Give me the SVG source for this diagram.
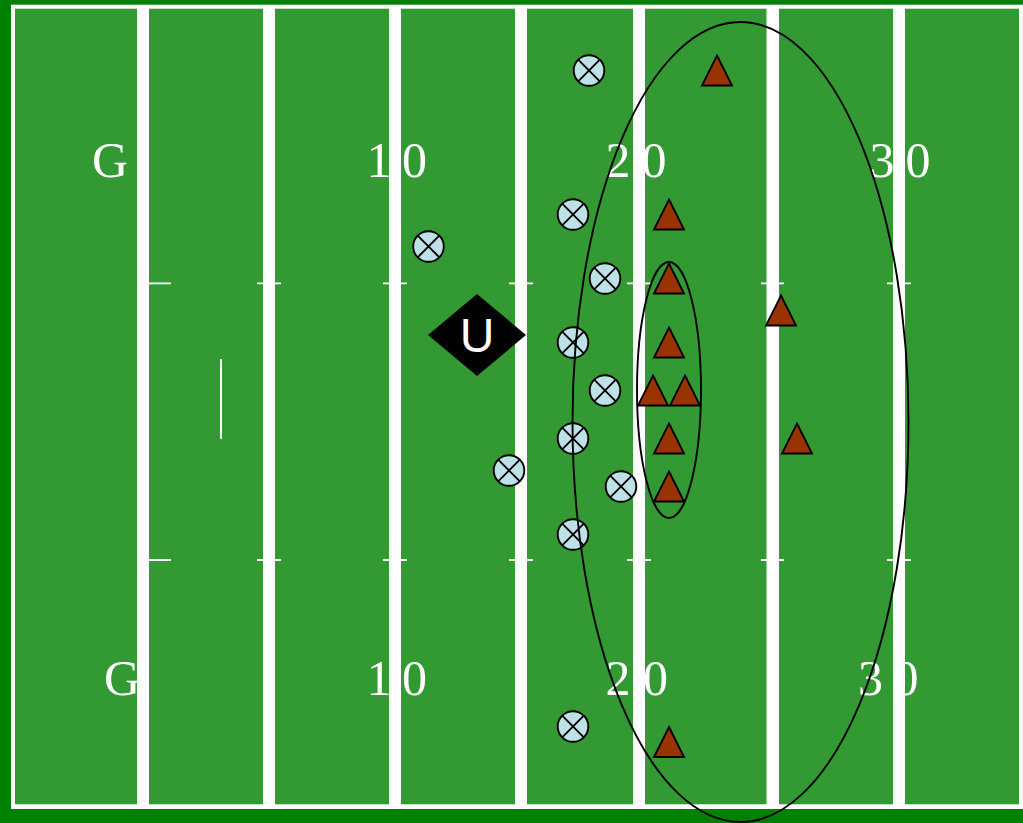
<svg xmlns="http://www.w3.org/2000/svg" xmlns:xlink="http://www.w3.org/1999/xlink" width="1023" height="823" viewBox="0 0 1023 823">
<style>
.num{font-family:"Liberation Serif","Times New Roman",serif;font-size:50px;fill:#ffffff;text-anchor:middle}
.yl{fill:#ffffff}
.hash{stroke:#ffffff;stroke-width:1.8;fill:none}
.off circle{fill:#bde1e6;stroke:#000000;stroke-width:1.9}
.off path{stroke:#000000;stroke-width:1.9;fill:none}
.def{fill:#993300;stroke:#000000;stroke-width:1.9;stroke-linejoin:miter}
.zone{fill:none;stroke:#000000;stroke-width:1.9}
</style>
<defs>
<g id="xcirc" class="off"><circle cx="0" cy="0" r="15.3"/><path d="M-10.8,-10.8 L10.8,10.8 M-10.8,10.8 L10.8,-10.8"/></g>
<polygon id="tri" class="def" points="0,-15 15,15 -15,15"/>
</defs>
<g id="field">
<rect x="0" y="0" width="1023" height="823" fill="#008000"/>
<rect x="11" y="4.7" width="1014" height="804.3" fill="#ffffff"/>
<rect x="15" y="8.7" width="1004" height="795.6" fill="#339933"/>
</g>
<g id="numbers">
<text class="num" x="110" y="177">G</text>
<text class="num" x="379 414.5" y="177">10</text>
<text class="num" x="618 654" y="177">20</text>
<text class="num" x="882 918" y="177">30</text>
<text class="num" x="122" y="695">G</text>
<text class="num" x="379 414.5" y="695">10</text>
<text class="num" x="618 655.5" y="695">20</text>
<text class="num" x="870.5 906" y="695">30</text>
</g>
<g id="yardlines">
<rect class="yl" x="137" y="6" width="12" height="801"/>
<rect class="yl" x="263" y="6" width="12" height="801"/>
<rect class="yl" x="389" y="6" width="12" height="801"/>
<rect class="yl" x="515" y="6" width="12" height="801"/>
<rect class="yl" x="633" y="6" width="12" height="801"/>
<rect class="yl" x="766.5" y="6" width="12.5" height="801"/>
<rect class="yl" x="893" y="6" width="12" height="801"/>
</g>
<g id="hashes">
<path class="hash" d="M149,283.3H171 M257,283.3H281 M383,283.3H407 M509,283.3H533 M627,283.3H651 M761,283.3H784 M887,283.3H911"/>
<path class="hash" d="M149,560H171 M257,560H281 M383,560H407 M509,560H533 M627,560H651 M761,560H784 M887,560H911"/>
<line x1="221" y1="359" x2="221" y2="439" stroke="#ffffff" stroke-width="2"/>
</g>
<g id="qb">
<polygon points="477,294 526,335 477,376 428,335" fill="#000000"/>
<text x="477" y="352" text-anchor="middle" font-family="Liberation Sans, Arial, sans-serif" font-size="48" fill="#ffffff">U</text>
</g>
<g id="offense">
<use id="o1" xlink:href="#xcirc" x="589" y="70.5"/>
<use id="o2" xlink:href="#xcirc" x="573" y="214.5"/>
<use id="o3" xlink:href="#xcirc" x="428.5" y="246.5"/>
<use id="o4" xlink:href="#xcirc" x="605" y="278.5"/>
<use id="o5" xlink:href="#xcirc" x="573" y="342.5"/>
<use id="o6" xlink:href="#xcirc" x="605" y="390.5"/>
<use id="o7" xlink:href="#xcirc" x="573" y="438.5"/>
<use id="o8" xlink:href="#xcirc" x="509" y="470.5"/>
<use id="o9" xlink:href="#xcirc" x="621" y="486.5"/>
<use id="o10" xlink:href="#xcirc" x="573" y="534.5"/>
<use id="o11" xlink:href="#xcirc" x="573" y="726.5"/>
</g>
<g id="defense">
<use id="d1" xlink:href="#tri" x="717" y="70.5"/>
<use id="d2" xlink:href="#tri" x="669" y="214.5"/>
<use id="d3" xlink:href="#tri" x="669" y="278.5"/>
<use id="d4" xlink:href="#tri" x="781" y="310.5"/>
<use id="d5" xlink:href="#tri" x="669" y="342.5"/>
<use id="d6" xlink:href="#tri" x="653" y="390.5"/>
<use id="d7" xlink:href="#tri" x="685" y="390.5"/>
<use id="d8" xlink:href="#tri" x="669" y="438.5"/>
<use id="d9" xlink:href="#tri" x="797" y="438.5"/>
<use id="d10" xlink:href="#tri" x="669" y="486.5"/>
<use id="d11" xlink:href="#tri" x="669" y="742"/>
</g>
<g id="zones">
<ellipse class="zone" cx="740.5" cy="422" rx="168" ry="400"/>
<ellipse class="zone" cx="669" cy="390" rx="32" ry="128"/>
</g>
</svg>
